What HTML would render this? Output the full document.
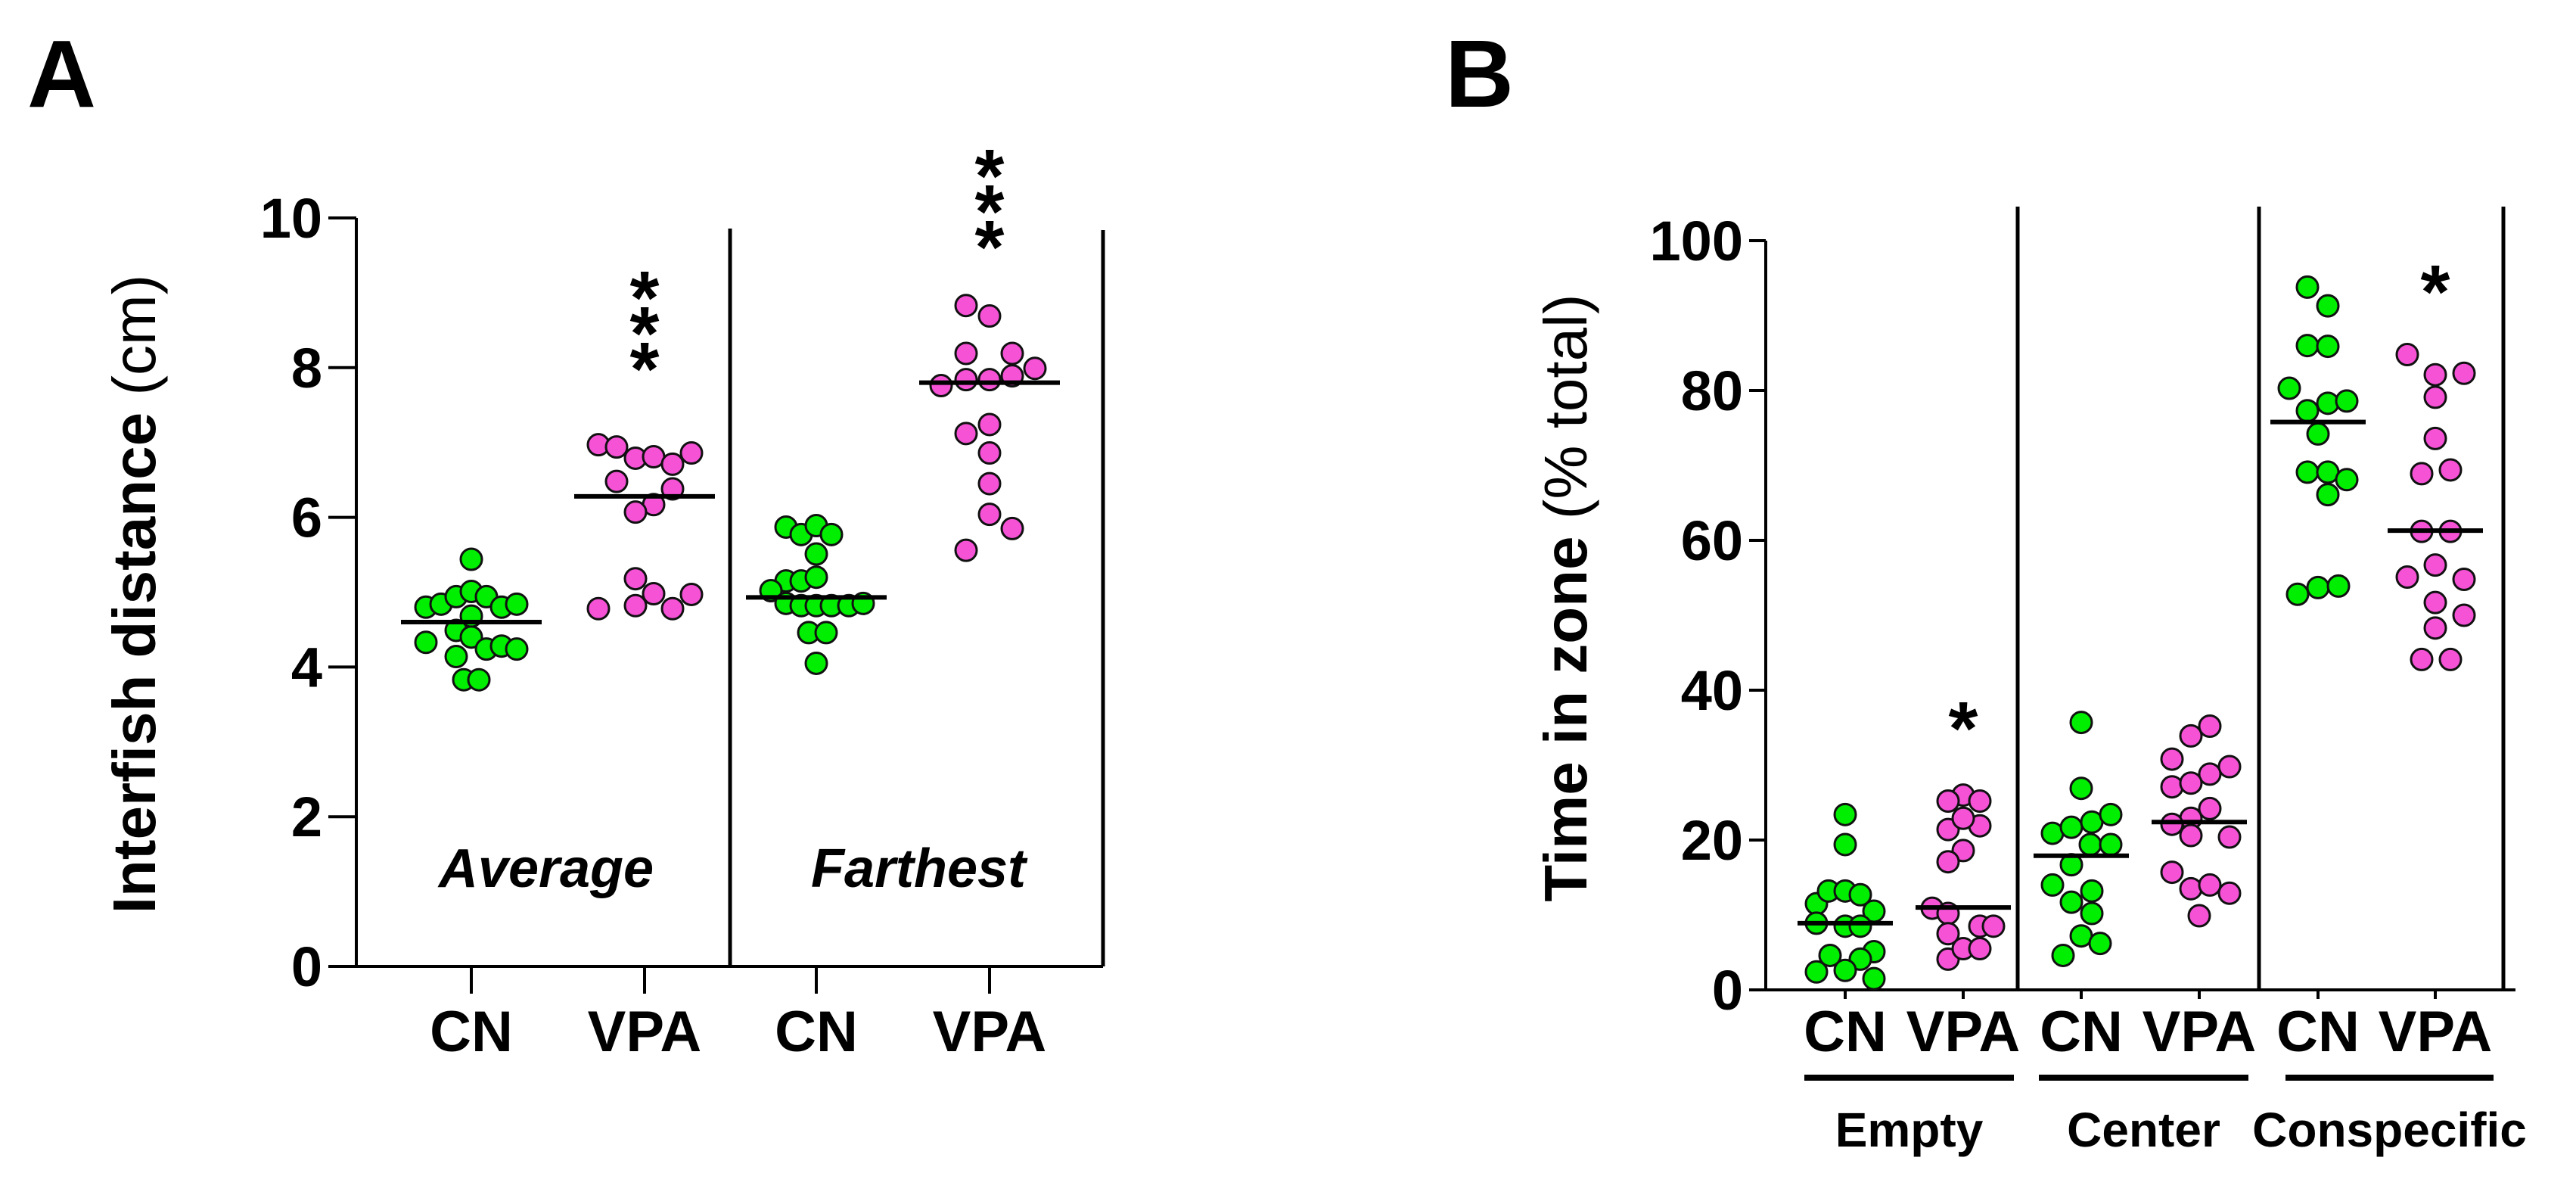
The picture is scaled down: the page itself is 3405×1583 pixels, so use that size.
<!DOCTYPE html>
<html><head><meta charset="utf-8">
<style>
html,body{margin:0;padding:0;background:#fff;}
svg{display:block;}
text{font-family:"Liberation Sans",Arial,sans-serif;}
</style></head>
<body>
<svg id="fig" width="3405" height="1583" viewBox="0 0 3405 1583" xmlns="http://www.w3.org/2000/svg">
<text x="36" y="141" font-size="126" font-weight="bold">A</text>
<text x="1910" y="141" font-size="126" font-weight="bold">B</text>
<text transform="translate(205,785) rotate(-90)" text-anchor="middle" font-size="80"><tspan font-weight="bold">Interfish distance</tspan> (cm)</text>
<text transform="translate(2097,790) rotate(-90)" text-anchor="middle" font-size="80"><tspan font-weight="bold">Time in zone</tspan> (% total)</text>
<g id="ga"></g>
<g id="gb"></g>
</svg>
<script>
// ---------- Panel A data ----------
const aGroups = ["CN","VPA","CN","VPA"];
const aYTicks = [0,2,4,6,8,10];
const aAvgCN = [5.44,4.80,4.84,4.94,5.01,4.94,4.80,4.84,4.68,4.49,4.40,4.33,4.24,4.28,4.24,4.14,3.83,3.83];
const aAvgCNj = [0,-6,-4,-2,0,2,4,6,0,-2,0,-6,2,4,6,-2,-1,1];
const aAvgVPA = [6.97,6.94,6.79,6.81,6.71,6.86,6.48,6.38,6.17,6.07,5.18,4.98,4.97,4.78,4.82,4.78];
const aAvgVPAj = [-6.1,-3.7,-1.2,1.2,3.7,6.2,-3.7,3.7,1.2,-1.2,-1.2,1.2,6.2,-6.1,-1.2,3.7];
const aFarCN = [5.87,5.77,5.89,5.77,5.51,5.15,5.15,5.20,5.02,4.85,4.82,4.82,4.82,4.82,4.85,4.46,4.46,4.05];
const aFarCNj = [-4,-2,0,2,0,-4,-2,0,-6,-4,-2,0,2,4.3,6.2,-1,1.3,0];
const aFarVPA = [8.83,8.69,8.19,8.19,7.99,7.76,7.84,7.84,7.89,7.24,7.12,6.86,6.45,6.04,5.85,5.56];
const aFarVPAj = [-3.1,0,-3.1,3,6,-6.4,-3.1,0,3,0,-3.1,0,0,0,3,-3.1];
const aMedians = [4.6,6.28,4.93,7.8];
const aStars = ["***","***"];
// ---------- Panel B data ----------
const bGroups = ["CN","VPA","CN","VPA","CN","VPA"];
const bZones = ["Empty","Center","Conspecific"];
const bYTicks = [0,20,40,60,80,100];
const bEmptyCN = [23.4,19.4,11.5,13.2,13.2,12.7,10.5,8.9,8.5,8.5,4.6,5.1,4.1,2.4,2.6,1.5];
const bEmptyCNj = [0,0,-3.8,-2.2,0,2,3.8,-3.8,0,2,-2,3.8,2,-3.8,0,3.8];
const bEmptyVPA = [26.0,25.2,25.2,21.4,21.9,22.9,18.6,17.1,10.9,10.2,7.5,8.5,8.5,4.1,5.5,5.5];
const bEmptyVPAj = [0,-2,2.2,-2,2.2,0,0,-2,-4.1,-2,-2,2.2,4,-2,0,2.2];
const bCenterCN = [35.7,26.9,20.9,21.7,22.4,23.4,19.4,19.4,16.7,14.0,13.2,11.7,10.2,7.2,6.2,4.6];
const bCenterCNj = [0,0,-3.8,-1.3,1.4,3.9,1.2,3.9,-1.3,-3.8,1.4,-1.3,1.4,0,2.5,-2.4];
const bCenterVPA = [35.2,33.9,30.8,29.8,28.8,27.1,27.6,24.2,22.9,22.1,20.4,20.6,15.7,13.5,14.0,12.9,9.9];
const bCenterVPAj = [1.4,-1.1,-3.6,4,1.4,-3.6,-1.1,1.4,-1.1,-3.6,4,-1.1,-3.6,-1.1,1.4,4,0];
const bConCN = [93.8,91.3,86.0,85.9,80.3,77.3,78.3,78.6,74.2,69.1,69.1,68.1,66.1,52.8,53.7,53.9];
const bConCNj = [-1.4,1.3,-1.4,1.3,-3.8,-1.4,1.3,3.8,0,-1.4,1.3,3.8,1.3,-2.7,0,2.7];
const bConVPA = [84.8,82.1,82.3,79.1,73.6,68.9,69.4,61.2,61.2,55.1,56.7,54.8,51.7,50.0,48.3,44.1,44.1];
const bConVPAj = [-3.7,0,3.8,0,0,-1.8,2,-1.8,2,-3.7,0,3.8,0,3.8,0,-1.8,2];
const bMedians = [8.9,11.0,17.9,22.4,75.8,61.3];
const bStars = ["","*","","","","*"];

const NS="http://www.w3.org/2000/svg";
const GREEN="#00ee00", PINK="#f552d6", J=10, R=14;
function mk(parent,tag,attrs,txt){const e=document.createElementNS(NS,tag);for(const k in attrs)e.setAttribute(k,attrs[k]);if(txt!==undefined)e.textContent=txt;parent.appendChild(e);return e;}

// ---------- Panel A ----------
(function(){
  const g=document.getElementById('ga');
  const x0=471,x1=1458,yb=1277,yt=288;
  const yA=v=>yb-(v-0)/(10-0)*(yb-yt);
  const xPos=[623,852,1079,1308];
  const xA=i=>xPos[i];
  let ax=mk(g,'path',{d:`M${x0},${yt} V${yb} H${x1}`,fill:'none',stroke:'#000','stroke-width':4});
  
  
  let d1=mk(g,'line',{x1:965,y1:302,x2:965,y2:yb,stroke:'#000','stroke-width':5});
  
  
  let d2=mk(g,'line',{x1:x1,y1:304,x2:x1,y2:yb,stroke:'#000','stroke-width':5});
  
  
  aYTicks.forEach(t=>{
    const y=yA(t);
    let tk=mk(g,'line',{x1:x0-37,y1:y,x2:x0,y2:y,stroke:'#000','stroke-width':4});
    
    
    let tl=mk(g,'text',{x:x0-45,y:y+26,'text-anchor':'end','font-size':74,'font-weight':'bold'},String(t));
    
    
  });
  aGroups.forEach((c,i)=>{
    let tk=mk(g,'line',{x1:xA(i),y1:yb,x2:xA(i),y2:yb+36,stroke:'#000','stroke-width':4});
    
    
    let tl=mk(g,'text',{x:xA(i),y:1389,'text-anchor':'middle','font-size':76,'font-weight':'bold'},c);
    
    
  });
  let l1=mk(g,'text',{x:722,y:1172,'text-anchor':'middle','font-size':72,'font-weight':'bold','font-style':'italic'},'Average');
  
  
  let l2=mk(g,'text',{x:1214,y:1172,'text-anchor':'middle','font-size':72,'font-weight':'bold','font-style':'italic'},'Farthest');
  
  
  const sets=[[aAvgCN,aAvgCNj,GREEN],[aAvgVPA,aAvgVPAj,PINK],[aFarCN,aFarCNj,GREEN],[aFarVPA,aFarVPAj,PINK]];
  sets.forEach((s,i)=>{
    s[0].forEach((v,k)=>{
      let c=mk(g,'circle',{cx:xA(i)+s[1][k]*J,cy:yA(v),r:R,fill:s[2],stroke:'#111','stroke-width':3});
      
      
    });
  });
  aMedians.forEach((m,i)=>{
    let ln=mk(g,'line',{x1:xA(i)-93,y1:yA(m),x2:xA(i)+93,y2:yA(m),stroke:'#000','stroke-width':6});
    
    
  });
  const starX=[xA(1),xA(3)],starTop=[343,182];
  aStars.forEach((s,i)=>{
    for(let k=0;k<s.length;k++){
      let st=mk(g,'text',{x:starX[i],y:starTop[i]+85+k*47,'text-anchor':'middle','font-size':100,'font-weight':'bold'},'*');
      
      
    }
  });
})();

// ---------- Panel B ----------
(function(){
  const g=document.getElementById('gb');
  const x0=2334,x1=3325,yb=1308,yt=318;
  const yB=v=>yb-(v-0)/(100-0)*(yb-yt);
  const xPos=[2439,2595,2751,2907,3064,3219];
  const xB=i=>xPos[i];
  let ax=mk(g,'path',{d:`M${x0},${yt} V${yb} H${x1}`,fill:'none',stroke:'#000','stroke-width':4});
  
  
  [2667,2986,3309].forEach(x=>{
    let d=mk(g,'line',{x1:x,y1:273,x2:x,y2:yb,stroke:'#000','stroke-width':5});
    
    
  });
  bYTicks.forEach(t=>{
    const y=yB(t);
    let tk=mk(g,'line',{x1:x0-22,y1:y,x2:x0,y2:y,stroke:'#000','stroke-width':4});
    
    
    let tl=mk(g,'text',{x:x0-30,y:y+26,'text-anchor':'end','font-size':74,'font-weight':'bold'},String(t));
    
    
  });
  bGroups.forEach((c,i)=>{
    let tk=mk(g,'line',{x1:xB(i),y1:yb,x2:xB(i),y2:yb+12,stroke:'#000','stroke-width':4});
    
    
    let tl=mk(g,'text',{x:xB(i),y:1389,'text-anchor':'middle','font-size':76,'font-weight':'bold'},c);
    
    
  });
  const ul=[[2385,2662],[2695,2972],[3021,3296]];
  bZones.forEach((z,i)=>{
    let u=mk(g,'line',{x1:ul[i][0],y1:1424,x2:ul[i][1],y2:1424,stroke:'#000','stroke-width':8});
    
    
    let t=mk(g,'text',{x:(ul[i][0]+ul[i][1])/2,y:1515,'text-anchor':'middle','font-size':64,'font-weight':'bold'},z);
    
    
  });
  const sets=[[bEmptyCN,bEmptyCNj,GREEN],[bEmptyVPA,bEmptyVPAj,PINK],[bCenterCN,bCenterCNj,GREEN],[bCenterVPA,bCenterVPAj,PINK],[bConCN,bConCNj,GREEN],[bConVPA,bConVPAj,PINK]];
  sets.forEach((s,i)=>{
    s[0].forEach((v,k)=>{
      let c=mk(g,'circle',{cx:xB(i)+s[1][k]*J,cy:yB(v),r:R,fill:s[2],stroke:'#111','stroke-width':3});
      
      
    });
  });
  bMedians.forEach((m,i)=>{
    let ln=mk(g,'line',{x1:xB(i)-63,y1:yB(m),x2:xB(i)+63,y2:yB(m),stroke:'#000','stroke-width':6});
    
    
  });
  const starY=[0,955,0,0,0,378];
  bStars.forEach((s,i)=>{
    if(!s)return;
    let st=mk(g,'text',{x:xB(i),y:starY[i]+42,'text-anchor':'middle','font-size':100,'font-weight':'bold'},s);
    
    
  });
})();
</script>
</body></html>
